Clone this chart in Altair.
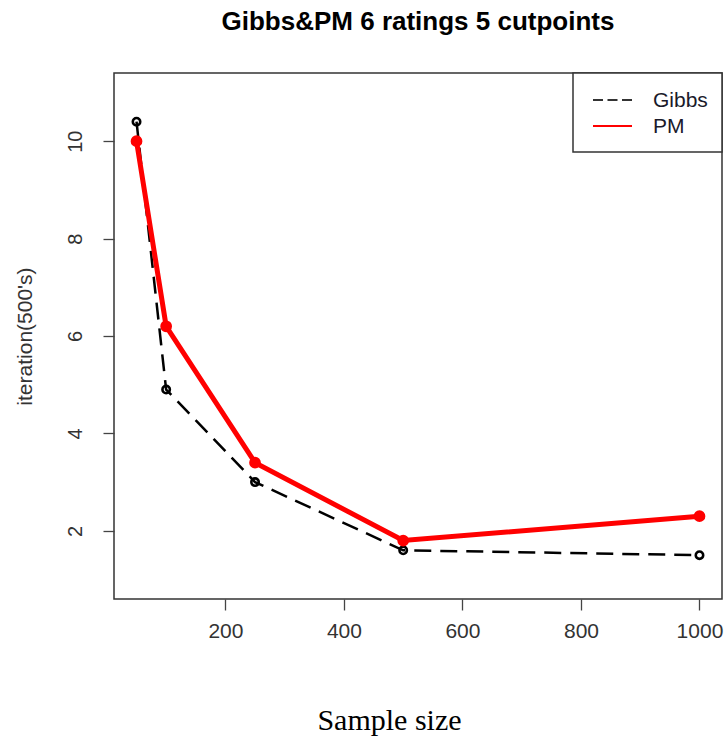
import altair as alt
import pandas as pd

# ---- data ----
sample_size = [50, 100, 250, 500, 1000]
gibbs = [10.4, 4.9, 3.0, 1.6, 1.5]
pm = [10.0, 6.2, 3.4, 1.8, 2.3]
series_names = ["Gibbs", "PM"]
series_colors = ["black", "red"]
y_ticks = [2, 4, 6, 8, 10]
x_ticks = [200, 400, 600, 800, 1000]
title_text = "Gibbs&PM 6 ratings 5 cutpoints"
x_title = "Sample size"
y_title = "iteration(500's)"

df = pd.DataFrame({
    "n": sample_size * 2,
    "value": gibbs + pm,
    "series": [series_names[0]] * len(sample_size) + [series_names[1]] * len(sample_size),
})
df_g = df[df.series == "Gibbs"]
df_p = df[df.series == "PM"]

W, H = 608, 526
FONT = "Liberation Sans"

xs = alt.Scale(domain=[12, 1038], nice=False, zero=False)
ys = alt.Scale(domain=[0.6, 11.4], nice=False, zero=False)

x_axis = alt.Axis(values=x_ticks, format="d", title=x_title, grid=False, domain=False,
                  tickSize=11, tickColor="#444", tickWidth=1.3,
                  labelFontSize=21, labelFont=FONT, labelColor="#333", labelPadding=10,
                  titleFont="Liberation Serif", titleFontSize=30, titleFontWeight="normal",
                  titleColor="black", titleX=275, titleY=130, titleBaseline="alphabetic",
                  titleAlign="center")
y_axis = alt.Axis(values=y_ticks, format="d", title=y_title, grid=False, domain=False,
                  tickSize=11, tickColor="#444", tickWidth=1.3,
                  labelFontSize=20, labelFont=FONT, labelColor="#333", labelAngle=-90,
                  labelAlign="center", labelBaseline="bottom", labelPadding=18,
                  titleFont=FONT, titleFontSize=21, titleFontWeight="normal",
                  titleColor="#333", titleAngle=-90, titleX=-89, titleY=H / 2,
                  titleBaseline="middle", titleAlign="center")

g_line = alt.Chart(df_g).mark_line(color="black", strokeWidth=2.5, strokeDash=[17, 9]).encode(
    x=alt.X("n:Q", scale=xs, axis=x_axis),
    y=alt.Y("value:Q", scale=ys, axis=y_axis),
)
g_pts = alt.Chart(df_g).mark_point(shape="circle", size=55, filled=False, stroke="black",
                                     strokeWidth=2.6, opacity=1).encode(
    x=alt.X("n:Q", scale=xs), y=alt.Y("value:Q", scale=ys))
p_line = alt.Chart(df_p).mark_line(color="red", strokeWidth=5).encode(
    x=alt.X("n:Q", scale=xs), y=alt.Y("value:Q", scale=ys))
p_pts = alt.Chart(df_p).mark_point(shape="circle", size=95, filled=True, fill="red",
                                     stroke="red", strokeWidth=2, opacity=1).encode(
    x=alt.X("n:Q", scale=xs), y=alt.Y("value:Q", scale=ys))

# ---- legend box (top right, like R's legend("topright")) ----
leg_df = pd.DataFrame({"label": series_names, "color": series_colors})
leg_box = alt.Chart(leg_df.head(1)).mark_rect(fill="white", stroke="#333", strokeWidth=1.5).encode(
    x=alt.value(459), x2=alt.value(W), y=alt.value(0), y2=alt.value(79))
leg_g_line = alt.Chart(leg_df.head(1)).mark_rule(color="#333", strokeWidth=2, strokeDash=[10, 4.5]).encode(
    x=alt.value(479), x2=alt.value(518), y=alt.value(27))
leg_p_line = alt.Chart(leg_df.tail(1)).mark_rule(color="red", strokeWidth=2).encode(
    x=alt.value(479), x2=alt.value(518), y=alt.value(53))
leg_g_text = alt.Chart(leg_df.head(1)).mark_text(align="left", baseline="middle", font=FONT,
                                                   fontSize=21, color="#1a1a2a").encode(
    x=alt.value(539), y=alt.value(28), text="label:N")
leg_p_text = alt.Chart(leg_df.tail(1)).mark_text(align="left", baseline="middle", font=FONT,
                                                   fontSize=21, color="#1a1a2a").encode(
    x=alt.value(539), y=alt.value(54), text="label:N")

chart = alt.layer(
    g_line, p_line, g_pts, p_pts,
    leg_box, leg_g_line, leg_p_line, leg_g_text, leg_p_text,
).properties(
    width=W, height=H,
    title=alt.TitleParams(title_text, font=FONT, fontSize=26, fontWeight="bold",
                          color="black", anchor="middle", baseline="alphabetic", offset=16),
    autosize=alt.AutoSizeParams(type="none"),
    padding={"left": 114, "top": 73, "right": 2, "bottom": 143},
    background="white",
).configure_view(stroke="#333", strokeWidth=1.5)

chart.save("out.html", embed_options={"renderer": "svg", "actions": False})
